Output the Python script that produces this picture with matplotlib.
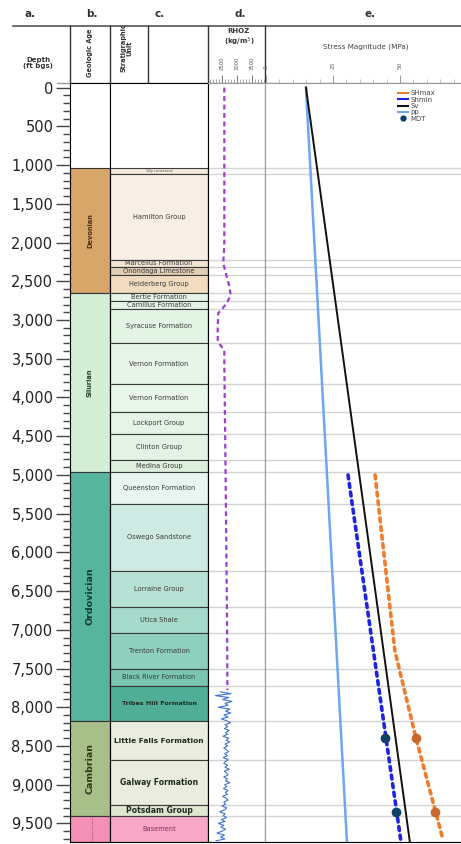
import matplotlib.pyplot as plt
from matplotlib.lines import Line2D
from matplotlib.ticker import MultipleLocator, FuncFormatter
import numpy as np

# === Geologic age intervals (ft bgs) ===
ages = ['Devonian', 'Silurian', 'Ordovician', 'Cambrian', '']
age_tops = [1040, 2650, 4960, 8180, 9410]
age_bases = [2650, 4960, 8180, 9410, 9740]

# === Stratigraphic units (ft bgs) ===
units = ['Tully Limestone', 'Hamilton Group', 'Marcellus Formation', 'Onondaga Limestone',
         'Helderberg Group', 'Bertie Formation', 'Camillus Formation', 'Syracuse Formation',
         'Vernon Formation', 'Vernon Formation', 'Lockport Group', 'Clinton Group',
         'Medina Group', 'Queenston Formation', 'Oswego Sandstone', 'Lorraine Group',
         'Utica Shale', 'Trenton Formation', 'Black River Formation', 'Tribes Hill Formation',
         'Little Falls Formation', 'Galway Formation', 'Potsdam Group', 'Basement']
unit_tops = [1040, 1115, 2220, 2320, 2420, 2650, 2760, 2860, 3300, 3830, 4190, 4470,
             4810, 4960, 5370, 6240, 6700, 7040, 7510, 7720, 8180, 8680, 9260, 9410]
unit_bases = unit_tops[1:] + [9740]

# === RHOZ (kg/m3) ===
rhoz_trend_depth = [0, 2010, 2270, 2440, 2560, 2680, 2770, 2850, 2910, 3080, 3260,
                    3320, 3390, 3550, 5000, 7000, 7780]
rhoz_trend = [2577, 2577, 2543, 2655, 2743, 2790, 2677, 2523, 2377, 2357, 2357,
              2433, 2577, 2577, 2620, 2670, 2680]
log_depth = np.arange(7800, 9726, 25)
log_rhoz = [2450, 2800, 2280, 2720, 2520, 2830, 2600, 2700, 2380, 2760, 2620, 2790,
            2560, 2700, 2480, 2650, 2780, 2600, 2690, 2580, 2740, 2620, 2680, 2530,
            2720, 2640, 2760, 2600, 2690, 2560, 2650, 2720, 2590, 2680, 2540, 2700,
            2620, 2560, 2690, 2600, 2740, 2580, 2660, 2700, 2560, 2680, 2620, 2760,
            2590, 2660, 2550, 2700, 2610, 2680, 2520, 2640, 2700, 2560, 2620, 2500,
            2660, 2580, 2420, 2600, 2540, 2650, 2480, 2600, 2380, 2560, 2460, 2620,
            2500, 2330, 2580, 2450, 2600, 2300]

# === Stress magnitudes (MPa) ===
pp_depth, pp = [0, 9740], [14.9, 30.2]
sv_depth, sv = [0, 9740], [14.9, 53.7]
shmin_depth, shmin = [5000, 9740], [30.6, 50.4]
shmax_depth, shmax = [5000, 7270, 8400, 9700], [40.7, 48.1, 56.0, 66.0]
mdt_depth = [8400, 9350]
mdt_shmin = [44.4, 48.5]
mdt_shmax = [56.0, 63.0]

# === Styles ===
age_colors = ['#d9a66a', '#d5efd7', '#58b59d', '#a8bf8a', '#f490b5']
unit_colors = ['#f3e9dc', '#f7efe6', '#f2e4d3', '#e2cdb5', '#f1dcc2',
               '#e6f4e8', '#e6f4e8', '#e3f3e4', '#e6f5e7', '#e9f6ea', '#e6f4e7', '#e3f2e4',
               '#dcefdc', '#e8f5f1', '#cfeae2', '#b7e1d5', '#a6dacb', '#8ecfbd', '#78c6b0',
               '#4fae95', '#e9ecde', '#e9ecde', '#dfe7cf', '#f7a8c6']

W, H = 461, 844
TOP, BOT = 83, 842
ylim = (9740, -60)

fig = plt.figure(figsize=(W / 100, H / 100), dpi=100)


def col(x0, x1):
    return [x0 / W, 1 - BOT / H, (x1 - x0) / W, (BOT - TOP) / H]


# header drawn in pixel coordinates
hdr = fig.add_axes([0, 0, 1, 1])
hdr.set_xlim(0, W)
hdr.set_ylim(H, 0)
hdr.axis('off')
hdr.plot([13, W], [26, 26], color='#555555', lw=1.2)
hdr.plot([57, W], [TOP, TOP], color='#999999', lw=1)
for x in [70, 110, 148, 208, 265]:
    hdr.plot([x, x], [26, TOP], color='#333333', lw=1)
for lab, x in zip(['a.', 'b.', 'c.', 'd.', 'e.'], [30, 92, 160, 240, 370]):
    hdr.text(x, 14, lab, ha='center', va='center', fontsize=7.5, fontweight='bold', color='#333333')
hdr.text(38, 63, 'Depth\n(ft bgs)', ha='center', va='center', fontsize=5, fontweight='bold',
         color='#333333', linespacing=1.1)
hdr.text(90, 53, 'Geologic Age', ha='center', va='center', rotation=90, fontsize=4.8,
         fontweight='bold', color='#333333')
hdr.text(126, 48, 'Stratigraphic\nUnit', ha='center', va='center', rotation=90, fontsize=4.8,
         fontweight='bold', color='#333333', linespacing=1.0)
hdr.text(239, 38, 'RHOZ\n(kg/m$^3$)', ha='center', va='center', fontsize=5, fontweight='bold',
         color='#333333', linespacing=1.1)
hdr.text(366, 47, 'Stress Magnitude (MPa)', ha='center', va='center', fontsize=5.2, color='#444444')

# b. geologic age
ax_age = fig.add_axes(col(70, 110))
ax_age.barh([(t + b) / 2 for t, b in zip(age_tops, age_bases)],
            1, height=[b - t for t, b in zip(age_tops, age_bases)],
            left=0, color=age_colors, edgecolor='#333333', lw=0.8)
age_style = {'Devonian': (4.8, 'bold', '#4a3010'), 'Silurian': (4.8, 'bold', '#24402a'),
             'Ordovician': (6.8, 'bold', '#123d33'), 'Cambrian': (6.8, 'bold', '#2c3a1c')}
for name, t, b in zip(ages, age_tops, age_bases):
    if name:
        fs, fw, c = age_style[name]
        ax_age.text(0.5, (t + b) / 2, name, rotation=90, ha='center', va='center',
                    fontsize=fs, fontweight=fw, color=c)
ax_age.plot([0.55, 0.55], [9410, 9740], color='#8a3058', lw=0.6, ls=':')
ax_age.set_xlim(0, 1)
ax_age.set_ylim(*ylim)
ax_age.set_xticks([])
ax_age.yaxis.set_minor_locator(MultipleLocator(100))
ax_age.set_yticks(list(range(0, 9600, 500)))
ax_age.yaxis.set_major_formatter(FuncFormatter(lambda v, p: f'{int(v):,}'))
ax_age.tick_params(axis='y', which='major', length=10, width=1, color='#444444',
                   labelsize=10.5, labelcolor='#222222', pad=2)
ax_age.tick_params(axis='y', which='minor', length=5, width=1, color='#444444')

# c. stratigraphic units
ax_unit = fig.add_axes(col(110, 208))
ax_unit.barh([(t + b) / 2 for t, b in zip(unit_tops, unit_bases)],
             1, height=[b - t for t, b in zip(unit_tops, unit_bases)],
             left=0, color=unit_colors, edgecolor='#3a3a3a', lw=0.8)
bold_units = {'Tribes Hill Formation': 4.6, 'Little Falls Formation': 5.3,
              'Galway Formation': 5.5, 'Potsdam Group': 5.5}
for name, t, b in zip(units, unit_tops, unit_bases):
    mid = (t + b) / 2
    if name in bold_units:
        ax_unit.text(0.5, mid, name, ha='center', va='center', fontsize=bold_units[name],
                     fontweight='bold', color='#1e2a20', clip_on=False)
    elif name == 'Tully Limestone':
        ax_unit.text(0.5, mid, name, ha='center', va='center', fontsize=2.5, color='#555555')
    elif name == 'Basement':
        ax_unit.text(0.5, mid, name, ha='center', va='center', fontsize=4.8, color='#8a3050')
    else:
        ax_unit.text(0.5, mid, name, ha='center', va='center', fontsize=4.8, color='#3a3a3a')
ax_unit.set_xlim(0, 1)
ax_unit.set_ylim(*ylim)
ax_unit.set_xticks([])
ax_unit.set_yticks([])

# d. RHOZ
ax_rho = fig.add_axes(col(208, 265))
ax_st = fig.add_axes(col(265, W))
for ax in (ax_rho, ax_st):
    for d in unit_tops + [unit_bases[-1]]:
        ax.axhline(d, color='#d4d4d4', lw=1, zorder=0)
    ax.set_ylim(*ylim)
    ax.set_yticks([])
    ax.spines['top'].set_color('#999999')

ax_rho.plot(rhoz_trend, rhoz_trend_depth, color='#9b3fd6', lw=1.6, ls=(0, (2.2, 1.6)))
ax_rho.plot(log_rhoz, log_depth, color='#3f74d4', lw=0.8)
ax_rho.set_xlim(2033, 3933)
ax_rho.xaxis.tick_top()
ax_rho.xaxis.set_minor_locator(MultipleLocator(100))
ax_rho.set_xticks([2500, 3000, 3500])
ax_rho.tick_params(axis='x', which='major', length=6, width=0.7, color='#777777',
                   labelsize=3.8, labelrotation=90, pad=3, labelcolor='#555555')
ax_rho.tick_params(axis='x', which='minor', length=3, width=0.6, color='#999999')
ax_rho.spines['right'].set_color('#555555')

# e. stress magnitudes
ax_st.plot(pp, pp_depth, color='#6ea6ef', lw=1.8)
ax_st.plot(sv, sv_depth, color='#111111', lw=1.4)
ax_st.plot(shmin, shmin_depth, color='#1f24e0', lw=2.6, ls=(0, (1.1, 1.3)),
           dash_capstyle='round')
ax_st.plot(shmax, shmax_depth, color='#ee7d2e', lw=2.6, ls=(0, (1.1, 1.3)),
           dash_capstyle='round')
ax_st.plot(mdt_shmin, mdt_depth, 'o', color='#0f4169', ms=6)
ax_st.plot(mdt_shmax, mdt_depth, 'o', color='#c8692e', ms=6)
ax_st.set_xlim(-0.4, 72.8)
ax_st.xaxis.tick_top()
ax_st.xaxis.set_major_locator(MultipleLocator(25))
ax_st.xaxis.set_minor_locator(MultipleLocator(5))
ax_st.tick_params(axis='x', which='major', length=6, width=0.7, color='#999999',
                  labelsize=4.2, labelrotation=90, pad=4, labelcolor='#666666')
ax_st.tick_params(axis='x', which='minor', length=3, width=0.6, color='#bbbbbb')
ax_st.spines['left'].set_color('#999999')
ax_st.spines['right'].set_visible(False)

handles = [Line2D([], [], color='#ee7d2e', lw=1.5),
           Line2D([], [], color='#1f24e0', lw=1.5),
           Line2D([], [], color='#111111', lw=1.5),
           Line2D([], [], color='#6ea6ef', lw=1.5),
           Line2D([], [], ls='', marker='o', color='#0f4169', ms=3.5)]
ax_st.legend(handles, ['SHmax', 'Shmin', 'Sv', 'pp', 'MDT'], loc='upper left',
             bbox_to_anchor=(0.66, 0.995), frameon=False, fontsize=5, handlelength=1.4,
             handletextpad=0.4, labelspacing=0.05, borderpad=0, labelcolor='#444444')

fig.savefig('out.png', dpi=100)
